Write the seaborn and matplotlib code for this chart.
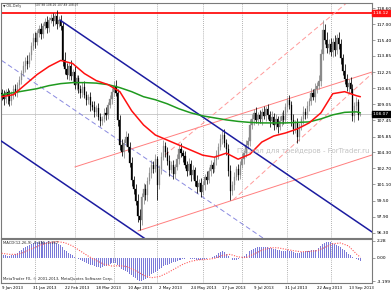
import numpy as np
import pandas as pd
import matplotlib
matplotlib.use("Agg")
import matplotlib.pyplot as plt
import seaborn as sns

sns.set_style("white")
plt.rcParams["font.family"] = ["DejaVu Sans"]

# ---------------- data ----------------
symbol = "OIL.Daily"
last_ohlc = ["107.98", "108.16", "107.89", "108.07"]
first_open = 110.2
closes = [
    110.0, 109.6, 110.3, 109.9, 109.4, 110.1,
    110.6, 110.2, 111.0, 111.5, 112.2,
    112.8, 113.3, 113.0, 113.9, 114.8,
    115.6, 115.2, 116.1, 116.5, 116.0,
    116.8, 117.2, 116.6, 117.4, 117.6,
    117.3, 117.8, 117.0, 117.4, 116.8,
    113.4, 112.6, 112.0, 112.8, 111.9, 112.3,
    111.0, 111.7, 110.6, 110.2, 110.8,
    110.0, 109.5, 109.8, 109.0, 108.8,
    108.3, 108.7, 107.8, 107.4, 107.6,
    108.2, 108.0, 109.0, 109.6, 110.3,
    110.9, 110.2, 107.5, 105.0,
    104.3, 105.2, 105.8, 104.8,
    103.2, 101.5, 100.6, 99.5,
    98.0, 97.6,
    99.8, 100.6, 100.0, 101.4, 102.2,
    103.0, 102.6, 103.6, 101.0,
    102.6, 103.8, 104.9, 104.3,
    103.4, 102.5, 103.0, 102.1, 102.8,
    103.6, 104.6, 104.2, 103.9,
    103.0, 102.4, 103.1, 102.0, 102.5,
    101.4, 100.8, 101.2, 100.3,
    101.0, 101.8, 101.5, 102.4, 103.0, 102.6, 103.5, 104.0,
    104.8, 105.6, 106.0, 105.2, 104.6,
    102.4, 100.4, 101.0,
    101.8, 102.6, 102.0, 103.0, 103.6,
    104.2, 105.0, 105.4,
    107.0, 107.6, 108.2, 107.5, 108.0,
    107.6, 108.3, 107.9, 108.6, 108.0, 107.4, 107.8,
    107.0, 107.6, 106.8, 107.4, 107.9, 107.5,
    108.8, 109.5, 109.0,
    107.5, 106.6, 107.2, 105.8,
    106.8, 107.6, 108.3, 108.0,
    108.9, 109.4, 110.2, 109.8, 110.6, 110.9,
    111.4, 114.0, 116.4,
    115.4, 114.6, 115.0, 114.2, 115.2, 114.4,
    115.6, 115.0,
    113.6, 112.4, 111.6,
    110.8, 111.2,
    110.6, 107.9, 108.9, 109.3, 107.98, 108.07,
]
upper_wick = [
    0.4, 0.5, 0.3, 0.4, 0.6, 0.3, 0.4, 0.5, 0.3, 0.4,
    0.3, 0.5, 0.4, 0.6, 0.3, 0.4, 0.5, 0.6, 0.3, 0.4,
    0.6, 0.3, 0.4, 0.6, 0.3, 0.4, 0.5, 0.3, 0.6, 0.4,
    0.5, 0.4, 0.8, 0.5, 0.4, 0.6, 0.3, 0.5, 0.3, 0.3,
    0.4, 0.5, 0.6, 0.4, 0.3, 0.5, 0.4, 0.6, 0.3, 0.5,
    0.4, 0.3, 0.5, 0.6, 0.3, 0.4, 0.4, 0.5, 0.6, 0.4,
    0.5, 0.6, 0.4, 0.6, 0.4, 0.5, 0.6, 0.4, 0.5, 0.6,
    0.7, 0.4, 0.6, 0.5, 0.4, 0.6, 0.5, 0.4, 0.5, 0.3,
    0.4, 0.5, 0.6, 0.4, 0.5, 0.6, 0.4, 0.5, 0.3, 0.5,
    0.4, 0.6, 0.3, 0.5, 0.4, 0.6, 0.4, 0.5, 0.3, 0.6,
    0.4, 0.5, 0.4, 0.3, 0.6, 0.4, 0.5, 0.3, 0.4, 0.5,
    0.4, 0.5, 0.5, 0.6, 0.4, 0.5, 0.6, 0.4, 0.5, 0.3,
    0.5, 0.4, 0.6, 0.3, 0.5, 0.4, 0.6, 0.5, 0.4, 0.6,
    0.3, 0.5, 0.4, 0.6, 0.3, 0.5, 0.4, 0.6, 0.4, 0.5,
    0.3, 0.5, 0.4, 0.6, 0.4, 0.3, 0.5, 0.4, 0.6, 0.3,
    0.5, 0.4, 0.3, 0.6, 0.4, 0.5, 0.3, 0.5, 0.4, 0.6,
    0.4, 0.6, 0.5, 1.0, 0.6, 0.8, 0.5, 0.6, 0.4, 0.7,
    0.4, 0.6, 0.5, 0.4, 0.6, 0.5, 0.4, 0.6, 0.5, 0.4,
    0.5, 0.3, 0.09,
]
lower_wick = [
    0.5, 0.6, 0.4, 0.8, 0.5, 0.4, 0.5, 0.3, 0.4, 0.5,
    0.4, 0.3, 0.5, 0.4, 0.3, 0.5, 0.4, 0.6, 0.3, 0.4,
    0.5, 0.4, 0.3, 0.5, 0.4, 0.3, 0.5, 0.4, 0.5, 0.3,
    0.4, 0.6, 0.5, 0.4, 0.5, 0.4, 0.6, 0.4, 0.5, 0.4,
    0.5, 0.4, 0.3, 0.5, 0.4, 0.6, 0.3, 0.5, 0.4, 0.3,
    0.5, 0.4, 0.3, 0.5, 0.4, 0.3, 0.5, 0.4, 0.3, 0.6,
    0.5, 0.4, 0.6, 0.3, 0.5, 0.4, 0.6, 0.5, 0.4, 0.6,
    1.0, 0.5, 0.6, 0.4, 0.5, 0.3, 0.5, 0.4, 0.3, 1.4,
    0.4, 0.5, 0.3, 0.5, 0.4, 0.6, 0.3, 0.5, 0.4, 0.3,
    0.5, 0.4, 0.6, 0.3, 0.5, 0.4, 0.6, 0.4, 0.5, 0.6,
    0.4, 0.5, 0.3, 0.5, 0.4, 0.3, 0.5, 0.4, 0.3, 0.5,
    0.4, 0.3, 0.5, 0.4, 0.6, 0.5, 0.8, 0.4, 0.5, 0.3,
    0.5, 0.4, 0.3, 0.5, 0.4, 0.3, 0.5, 0.4, 0.6, 0.3,
    0.5, 0.4, 0.6, 0.3, 0.5, 0.4, 0.6, 0.3, 0.5, 0.4,
    0.6, 0.3, 0.5, 0.4, 0.3, 0.5, 0.4, 0.6, 0.5, 0.4,
    0.6, 0.4, 0.3, 0.5, 0.4, 0.3, 0.5, 0.4, 0.3, 0.5,
    0.4, 0.3, 0.5, 0.6, 0.4, 0.5, 0.6, 0.4, 0.5, 0.6,
    0.4, 0.5, 0.6, 0.4, 0.5, 0.4, 0.6, 0.4, 0.5, 0.6,
    0.4, 0.5, 0.09,
]
ma_idx = [0, 6, 12, 18, 24, 30, 36, 42, 48, 54, 60, 66, 72, 78, 84, 90,
          96, 102, 108, 114, 120, 126, 132, 138, 144, 150, 156, 162, 168,
          174, 180, 182]
ma_fast = [109.8, 110.0, 111.0, 112.0, 112.8, 113.4, 113.1, 112.1, 111.4,
           111.0, 110.3, 108.4, 107.0, 106.0, 105.5, 105.0, 104.5, 104.0,
           103.8, 104.2, 103.6, 104.1, 105.3, 105.9, 106.2, 106.6, 107.2,
           108.2, 110.1, 110.3, 109.9, 109.8]
ma_slow = [110.0, 110.2, 110.4, 110.6, 110.9, 111.1, 111.2, 111.2, 111.15,
           111.0, 110.7, 110.3, 109.8, 109.5, 109.1, 108.6, 108.2, 107.9,
           107.7, 107.5, 107.35, 107.25, 107.2, 107.2, 107.2, 107.25, 107.3,
           107.6, 108.0, 108.25, 108.3, 108.2]
macd_hist = [
    0.5, 0.4, 0.3, 0.25, 0.2, 0.3, 0.4,
    0.5, 0.7, 0.9, 1.1, 1.3, 1.5, 1.6, 1.75, 1.9, 2.0, 2.1,
    2.15, 2.2, 2.25, 2.2, 2.15, 2.2, 2.25, 2.2, 2.15, 2.1, 2.0, 1.9, 1.7, 1.4,
    1.1, 0.9, 0.7, 0.5, 0.3,
    0.1, -0.05,
    -0.2, -0.35, -0.5, -0.6, -0.75, -0.85, -0.95, -1.05, -1.15, -1.25, -1.3, -1.35,
    -1.3, -1.2, -1.1, -1.0, -0.9, -0.8, -0.7, -0.75,
    -0.95, -1.25, -1.5, -1.7, -1.85,
    -2.0, -2.2, -2.4, -2.6, -2.8, -3.0, -3.15, -3.2, -3.1, -2.95,
    -2.75, -2.5, -2.3, -2.1, -1.95, -1.8, -1.6, -1.4,
    -1.2, -1.05, -0.95, -0.85, -0.75, -0.65, -0.55, -0.45, -0.35, -0.3,
    -0.2, -0.15, -0.1, -0.1, -0.15, -0.2, -0.25, -0.3, -0.3, -0.3,
    -0.3, -0.25, -0.2, -0.1, -0.05, 0.05,
    0.2, 0.4, 0.6, 0.8, 0.85, 0.75,
    0.5, 0.2, -0.1, -0.3, -0.35, -0.3, -0.2, -0.05,
    0.1, 0.25, 0.45, 0.65, 0.85,
    1.05, 1.2, 1.3, 1.4, 1.45, 1.5, 1.5, 1.45,
    1.4, 1.35, 1.3, 1.25, 1.15, 1.05, 1.0, 0.95, 0.9, 0.95,
    1.0, 0.95, 0.85, 0.75, 0.7, 0.65, 0.7, 0.75,
    0.8, 0.85, 0.9, 0.95, 1.0, 1.05, 1.1,
    1.2, 1.35, 1.6, 1.85, 2.0, 2.1, 2.15, 2.1,
    2.0, 1.9, 1.75, 1.6, 1.4, 1.2, 1.0, 0.8,
    0.55, 0.35, 0.15, -0.05, -0.2,
    -0.35, -0.45,
]
signal_idx = list(range(0, 181, 4)) + [182]
signal_val = [0.6, 0.45, 0.45, 0.8, 1.3, 1.75, 2.05, 2.2, 2.05, 1.6, 0.9, 0.2,
              -0.4, -0.9, -1.15, -1.1, -1.25, -1.8, -2.4, -2.75, -2.6, -2.1,
              -1.5, -0.9, -0.5, -0.3, -0.25, -0.1, 0.3, 0.45, 0.1, 0.0, 0.5,
              1.0, 1.35, 1.35, 1.15, 0.95, 0.8, 0.85, 0.95, 1.4, 1.9, 2.0,
              1.6, 0.5, 0.05]
macd_label = "MACD(12,26,9) -0.436 -0.157"
resistance_level = 118.12
last_price = 108.07
# trend lines: (bar positions, prices)
channel_upper = ([29.6, 187.9], [117.41, 96.38])
channel_lower = ([-0.3, 76.0], [105.42, 95.28])
channel_mid = ([0.0, 135.0], [113.40, 95.46])
support_lower = ([69.2, 187.9], [96.48, 104.02])
support_upper = ([37.2, 187.9], [102.83, 112.25])
fan_a = ([82.9, 175.0], [104.02, 119.10])
fan_b = ([117.4, 187.9], [99.55, 112.10])
price_ticks = [118.60, 117.00, 115.40, 113.85, 112.25, 110.65, 109.05, 107.45,
               105.85, 104.30, 102.70, 101.10, 99.50, 97.90, 96.30]
macd_ticks = [2.28, 0.00, -3.199]
macd_tick_labels = ["2.28", "0.00", "-3.199"]
watermark = "Портал для трейдеров - ForTrader.ru"
copyright_text = "MetaTrader FX, © 2001-2013, MetaQuotes Software Corp."

# ---------------- derived ----------------
n = len(closes)
assert len(upper_wick) == n and len(lower_wick) == n and len(macd_hist) == n
opens = [first_open] + closes[:-1]
highs = [max(o, c) + u for o, c, u in zip(opens, closes, upper_wick)]
lows = [min(o, c) - l for o, c, l in zip(opens, closes, lower_wick)]
days = pd.bdate_range("2013-01-09", "2013-11-30")
days = days[days != pd.Timestamp("2013-03-29")][:n]
idx = np.arange(n)
df = pd.DataFrame({"i": idx, "date": days, "open": opens, "high": highs,
                   "low": lows, "close": closes, "macd": macd_hist})
ma_df = pd.DataFrame({"i": ma_idx, "fast": ma_fast, "slow": ma_slow})
sig_df = pd.DataFrame({"i": signal_idx, "signal": signal_val})
month_start = [k for k in range(1, n) if days[k].month != days[k - 1].month]
label_pos = list(range(0, n, 16))

# ---------------- figure ----------------
W, H = 391, 293
fig = plt.figure(figsize=(W / 100, H / 100), dpi=100)
ax = fig.add_axes([1 / W, 1 - 238 / H, 371 / W, 235 / H])
axm = fig.add_axes([1 / W, 1 - 283 / H, 371 / W, 44 / H])
XL = (-0.3, 187.9)
for a in (ax, axm):
    a.set_xlim(*XL)
    for s in a.spines.values():
        s.set_color("#7a7a7a")
        s.set_linewidth(0.8)
    for k in month_start:
        a.axvline(k, color="#9a9a9a", lw=0.6, ls=(0, (1, 1.5)), zorder=0)
ax.set_ylim(95.78, 119.10)
axm.set_ylim(-3.47, 2.55)

# candles
up = df["close"] >= df["open"]
for mask, col in ((up, "#8a8a8a"), (~up, "#000000")):
    d = df[mask]
    ax.vlines(d["i"], d["low"], d["high"], color=col, lw=0.55, zorder=3)
    ax.bar(d["i"], (d["close"] - d["open"]).abs().clip(lower=0.08),
           bottom=d[["open", "close"]].min(axis=1), width=0.6, color=col,
           edgecolor=col, linewidth=0.2, zorder=3)

# lines
ax.axhline(resistance_level, color="#ff1010", lw=1.3, zorder=2)
ax.axhline(last_price, color="#c4c4c4", lw=0.6, zorder=1)
ax.plot(*channel_upper, color="#1c1ca0", lw=1.1, zorder=4)
ax.plot(*channel_lower, color="#1c1ca0", lw=1.1, zorder=4)
ax.plot(*channel_mid, color="#8a8ae0", lw=0.7, ls=(0, (5, 3)), zorder=2)
ax.plot(*support_lower, color="#ff7f7f", lw=0.7, zorder=2)
ax.plot(*support_upper, color="#ff7f7f", lw=0.7, zorder=2)
ax.plot(*fan_a, color="#ff9a9a", lw=0.7, ls=(0, (5, 3)), zorder=2)
ax.plot(*fan_b, color="#ff9a9a", lw=0.7, ls=(0, (5, 3)), zorder=2)
sns.lineplot(data=ma_df, x="i", y="slow", ax=ax, color="#1f9a1f", lw=1.1,
             zorder=5, legend=False)
sns.lineplot(data=ma_df, x="i", y="fast", ax=ax, color="#ff1010", lw=1.1,
             zorder=5, legend=False)

# MACD
axm.bar(df["i"], df["macd"], width=0.5, color="#7a7ad8", linewidth=0, zorder=2)
sns.lineplot(data=sig_df, x="i", y="signal", ax=axm, color="#ff5a5a", lw=0.8,
             ls=(0, (1, 1.3)), zorder=3, legend=False)

# axes / ticks
for a in (ax, axm):
    a.set_xlabel("")
    a.set_ylabel("")
    a.yaxis.tick_right()
    a.tick_params(axis="y", direction="out", length=2, width=0.5,
                  colors="#7a7a7a", labelcolor="black", labelsize=3.2, pad=1.2)
ax.set_yticks(price_ticks)
ax.set_yticklabels([f"{v:.2f}" for v in price_ticks])
ax.set_xticks([])
axm.set_yticks(macd_ticks)
axm.set_yticklabels(macd_tick_labels)
axm.set_xticks(label_pos)
axm.set_xticklabels([f"{days[k].day} {days[k]:%b %Y}" for k in label_pos],
                    ha="left")
axm.tick_params(axis="x", direction="out", length=1.5, width=0.5,
                colors="#7a7a7a", labelcolor="black", labelsize=2.8, pad=1.0)

# price boxes
yt = ax.get_yaxis_transform()
ax.text(1.004, resistance_level, f"{resistance_level:.2f}  ", transform=yt,
        color="white", fontsize=3.2, va="center", ha="left", zorder=10,
        bbox=dict(boxstyle="square,pad=0.25", fc="#ff1010", ec="#ff1010"))
ax.text(1.004, last_price, f"{last_price:.2f}  ", transform=yt,
        color="white", fontsize=3.2, va="center", ha="left", zorder=10,
        bbox=dict(boxstyle="square,pad=0.25", fc="#000000", ec="#000000"))

# texts
fig.text(3 / W, 1 - 5.5 / H, "▼ " + symbol, fontsize=2.3, va="center")
fig.text(35 / W, 1 - 5.5 / H, " ".join(last_ohlc), fontsize=2.1, va="center")
fig.text(237 / W, 1 - 151 / H, watermark, fontsize=5.0, color="#c2c2c2",
         va="center", zorder=1)
fig.text(3 / W, 1 - 243 / H, macd_label, fontsize=2.7, va="center")
fig.text(3 / W, 1 - 279 / H, copyright_text, fontsize=2.7, va="center")

fig.savefig("out.png", dpi=100, facecolor="white")
